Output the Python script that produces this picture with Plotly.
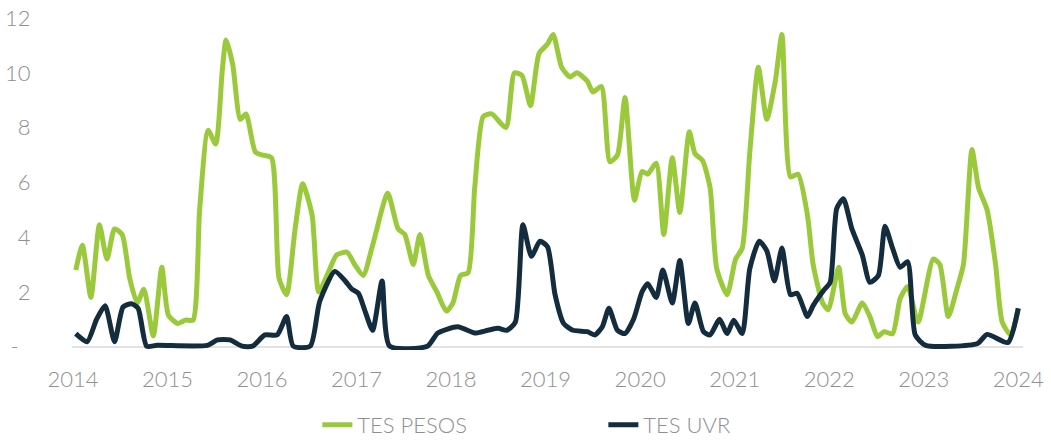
import plotly.graph_objects as go

# TES PESOS (decimal year, value)
pesos_x = [2014.03, 2014.10, 2014.19, 2014.28, 2014.36, 2014.44, 2014.52, 2014.60, 2014.68, 2014.75,
           2014.85, 2014.94, 2015.01, 2015.11, 2015.19, 2015.27, 2015.34, 2015.43, 2015.51, 2015.58,
           2015.62, 2015.69, 2015.77, 2015.83, 2015.93, 2016.00, 2016.10, 2016.18, 2016.26, 2016.35,
           2016.43, 2016.53, 2016.60, 2016.70, 2016.79, 2016.90, 2016.98, 2017.07, 2017.17, 2017.33,
           2017.44, 2017.51, 2017.60, 2017.67, 2017.76, 2017.85, 2017.95, 2018.02, 2018.10, 2018.18,
           2018.25, 2018.34, 2018.43, 2018.58, 2018.67, 2018.75, 2018.84, 2018.93, 2019.02, 2019.08,
           2019.17, 2019.26, 2019.33, 2019.44, 2019.50, 2019.59, 2019.68, 2019.76, 2019.84, 2019.94,
           2020.02, 2020.08, 2020.17, 2020.25, 2020.34, 2020.42, 2020.52, 2020.58, 2020.66, 2020.74,
           2020.81, 2020.92, 2021.01, 2021.08, 2021.16, 2021.25, 2021.34, 2021.43, 2021.50, 2021.59,
           2021.67, 2021.77, 2021.83, 2021.93, 2021.99, 2022.10, 2022.17, 2022.24, 2022.35, 2022.43,
           2022.51, 2022.58, 2022.67, 2022.75, 2022.83, 2022.94, 2023.10, 2023.17, 2023.26, 2023.35,
           2023.42, 2023.51, 2023.58, 2023.67, 2023.76, 2023.83, 2023.92, 2024.00]
pesos_y = [2.8, 3.7, 1.8, 4.45, 3.2, 4.3, 4.1, 2.5, 1.6, 2.1,
           0.4, 2.9, 1.15, 0.85, 0.97, 0.97, 5.0, 7.9, 7.4, 10.1,
           11.2, 10.3, 8.3, 8.5, 7.1, 7.0, 6.9, 2.5, 1.9, 4.3,
           5.95, 4.8, 2.0, 2.7, 3.35, 3.45, 3.0, 2.6, 3.7, 5.6,
           4.3, 4.1, 3.0, 4.1, 2.6, 2.0, 1.3, 1.6, 2.6, 2.7,
           5.8, 8.4, 8.5, 8.0, 10.0, 9.9, 8.8, 10.7, 11.05, 11.4,
           10.2, 9.85, 10.0, 9.7, 9.3, 9.5, 6.75, 7.0, 9.1, 5.35,
           6.4, 6.3, 6.7, 4.1, 6.9, 4.9, 7.85, 7.05, 6.8, 5.8,
           2.85, 1.9, 3.2, 3.6, 7.1, 10.2, 8.3, 9.7, 11.4, 6.2,
           6.3, 4.8, 3.0, 1.6, 1.35, 2.9, 1.2, 0.9, 1.6, 1.1,
           0.37, 0.55, 0.47, 1.75, 2.2, 0.9, 3.2, 3.0, 1.1, 2.1,
           3.0, 7.2, 5.8, 5.0, 3.0, 0.9, 0.43, 1.4]

# TES UVR (decimal year, value)
uvr_x = [2014.03, 2014.15, 2014.25, 2014.34, 2014.44, 2014.53, 2014.62, 2014.69, 2014.78, 2014.89,
         2015.42, 2015.53, 2015.66, 2015.79, 2015.90, 2016.03, 2016.16, 2016.26, 2016.33, 2016.51,
         2016.61, 2016.77, 2016.88, 2016.95, 2017.02, 2017.09, 2017.17, 2017.27, 2017.35, 2017.75,
         2017.86, 2018.07, 2018.25, 2018.39, 2018.50, 2018.59, 2018.68, 2018.76, 2018.85, 2018.94,
         2019.02, 2019.10, 2019.19, 2019.29, 2019.44, 2019.52, 2019.60, 2019.67, 2019.76, 2019.84,
         2019.93, 2020.02, 2020.08, 2020.17, 2020.24, 2020.34, 2020.42, 2020.51, 2020.58, 2020.67,
         2020.74, 2020.84, 2020.92, 2020.99, 2021.08, 2021.16, 2021.26, 2021.34, 2021.42, 2021.50,
         2021.59, 2021.66, 2021.77, 2021.83, 2021.94, 2022.01, 2022.08, 2022.15, 2022.24, 2022.35,
         2022.43, 2022.52, 2022.59, 2022.67, 2022.75, 2022.83, 2022.91, 2023.02, 2023.57, 2023.67,
         2023.89, 2024.00]
uvr_y = [0.48, 0.18, 1.0, 1.5, 0.18, 1.45, 1.57, 1.4, 0.02, 0.05,
         0.05, 0.25, 0.25, 0.02, 0.02, 0.43, 0.43, 1.1, 0.02, 0.02,
         1.65, 2.75, 2.4, 2.1, 1.95, 1.3, 0.6, 2.4, 0.02, 0.02,
         0.5, 0.73, 0.5, 0.6, 0.67, 0.6, 0.9, 4.45, 3.3, 3.85,
         3.65, 1.9, 0.85, 0.6, 0.55, 0.43, 0.73, 1.4, 0.6, 0.48,
         1.0, 2.0, 2.3, 1.8, 2.8, 1.6, 3.15, 0.85, 1.6, 0.55,
         0.43, 1.0, 0.48, 0.97, 0.48, 2.85, 3.85, 3.5, 2.4, 3.6,
         1.9, 1.95, 1.1, 1.5, 2.05, 2.35, 5.05, 5.4, 4.3, 3.35,
         2.35, 2.6, 4.4, 3.6, 2.9, 3.1, 0.43, 0.05, 0.12, 0.45,
         0.15, 1.4]

year_ticks = [2014, 2015, 2016, 2017, 2018, 2019, 2020, 2021, 2022, 2023, 2024]
y_ticks = [0, 2, 4, 6, 8, 10, 12]
y_tick_text = ["-\u00a0\u00a0", "2", "4", "6", "8", "10", "12"]

GREEN = "#9aca3c"
NAVY = "#142d3e"
GREY = "#8f8f8f"
FONT = "Lato"
FS = 22

fig = go.Figure()
fig.add_trace(go.Scatter(x=pesos_x, y=pesos_y, name="TES PESOS", mode="lines",
                         line=dict(color=GREEN, width=5, shape="spline", smoothing=0.6)))
fig.add_trace(go.Scatter(x=uvr_x, y=uvr_y, name="TES UVR", mode="lines",
                         line=dict(color=NAVY, width=5, shape="spline", smoothing=0.6)))

fig.update_layout(
    width=1051, height=440,
    margin=dict(l=72, r=28, t=12, b=90, autoexpand=False),
    paper_bgcolor="white", plot_bgcolor="white",
    font=dict(family=FONT, color=GREY, size=FS, weight=300),
    showlegend=True,
    legend=dict(orientation="h", x=0.258, xanchor="left", y=-0.222, yanchor="middle",
                font=dict(family=FONT, size=FS, color=GREY, weight=300),
                entrywidth=241, itemwidth=30, traceorder="normal"),
    xaxis=dict(range=[2013.99, 2024.05], tickvals=year_ticks, tickformat="d",
               showgrid=False, showline=False, zeroline=False,
               ticks="outside", ticklen=10, tickcolor="rgba(0,0,0,0)",
               tickfont=dict(family=FONT, size=FS, color=GREY, weight=300)),
    yaxis=dict(range=[-0.12, 12.22], tickvals=y_ticks, ticktext=y_tick_text,
               showgrid=False, showline=False, zeroline=True,
               zerolinecolor="#e2e2e2", zerolinewidth=2,
               ticks="outside", ticklen=36, tickcolor="rgba(0,0,0,0)",
               tickfont=dict(family=FONT, size=FS, color=GREY, weight=300)),
)

fig.write_html("out.html",
               config={"displayModeBar": False},
               post_script="document.body.style.margin='0';document.body.style.padding='0';")
